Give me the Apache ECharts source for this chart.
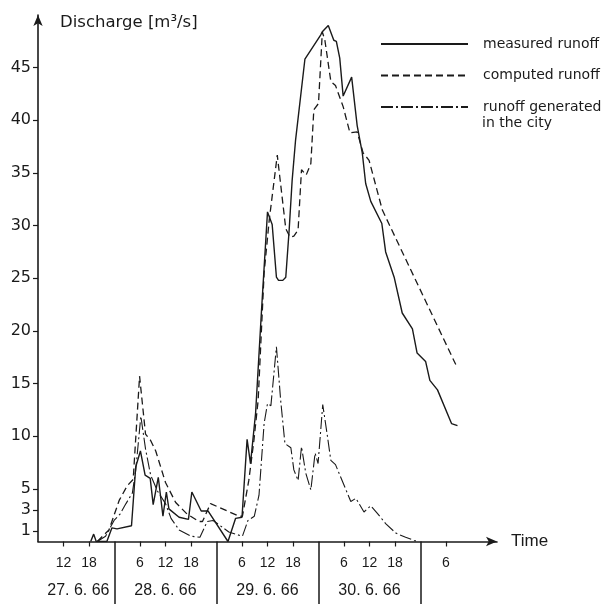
<!DOCTYPE html>
<html>
<head>
<meta charset="utf-8">
<script src="https://cdn.jsdelivr.net/npm/echarts@6/dist/echarts.min.js"></script>
<style>
html,body{margin:0;padding:0;background:#fff;}
#chart{width:602px;height:604px;}
</style>
</head>
<body>
<div id="chart"></div>
<script>
// time in hours counted from 27.6.66 00:00, discharge in m³/s
const measuredRunoff = [[18.4,0],[19.1,0.7],[19.7,0],[22.2,0],[23.4,1.3],[24.6,1.2],[28.0,1.5],[29.0,7.1],[30.1,8.6],[31.2,6.3],[32.4,6.0],[33.1,3.5],[34.3,6.1],[35.4,2.4],[36.2,4.7],[36.8,3.1],[39.2,2.3],[41.4,2.1],[42.2,4.7],[44.4,2.9],[46.0,2.9],[50.7,0],[52.5,2.2],[54.0,2.3],[55.2,9.7],[56.0,7.4],[57.2,12.2],[58.6,22.0],[60.0,31.3],[61.1,30.1],[62.1,25.1],[62.6,24.8],[63.6,24.8],[64.3,25.1],[65.1,29.6],[65.8,34.3],[66.6,38.1],[68.8,45.8],[72.5,48.1],[72.9,48.4],[74.3,49.0],[75.6,47.6],[76.2,47.5],[77.0,45.9],[77.8,42.3],[79.8,44.1],[81.1,39.5],[82.3,36.9],[83.1,34.0],[84.3,32.3],[86.9,30.2],[87.8,27.5],[89.8,25.1],[91.7,21.7],[94.1,20.2],[95.2,17.9],[97.2,17.1],[98.2,15.3],[100.0,14.4],[103.3,11.2],[104.7,11.0]];
const computedRunoff = [[19.95,0],[22.7,1.1],[25.1,3.9],[27.0,5.3],[28.4,5.9],[29.9,15.7],[31.3,10.2],[32.5,9.6],[33.7,8.6],[36.0,5.6],[38.4,3.7],[41.1,2.6],[43.9,1.9],[44.7,1.9],[46.6,3.6],[53.3,2.4],[54.1,2.4],[55.6,5.8],[56.8,9.6],[57.8,13.4],[59.2,25.5],[60.4,30.5],[62.3,36.7],[64.3,29.7],[65.3,28.9],[66.2,29.0],[67.2,29.6],[68.0,35.3],[69.1,34.8],[70.2,35.9],[70.9,41.0],[72.0,41.6],[72.9,48.4],[73.5,47.6],[74.9,43.7],[76.0,43.3],[77.8,41.3],[79.4,38.8],[81.1,38.9],[82.5,36.9],[83.9,36.2],[87.0,31.5],[104.3,16.8]];
const cityRunoff = [[19.95,0],[21.9,0.5],[23.9,2.0],[25.3,2.6],[26.7,3.6],[28.2,4.6],[29.0,6.8],[30.2,11.9],[31.3,8.8],[32.5,6.3],[34.1,4.8],[36.0,3.6],[37.3,2.2],[39.2,1.1],[42.0,0.5],[44.1,0.4],[45.8,1.9],[47.2,2.0],[50.9,0.9],[54.1,0.5],[55.4,2.0],[56.9,2.4],[58.0,4.4],[59.2,11.2],[60.0,13.1],[60.8,12.9],[62.1,18.5],[63.1,13.4],[64.1,9.3],[65.5,8.9],[66.2,6.8],[67.2,5.8],[68.0,9.0],[69.0,6.5],[70.2,4.9],[71.2,8.4],[71.9,7.4],[73.0,13.0],[74.1,10.0],[74.9,7.7],[76.0,7.3],[79.6,3.8],[80.8,4.1],[82.7,2.8],[84.3,3.4],[85.8,2.7],[87.8,1.7],[90.2,0.8],[92.5,0.4],[94.5,0.1],[95.6,0]];

const yTicks = [1,3,5,10,15,20,25,30,35,40,45];
const hourTicks = [12,18,30,36,42,54,60,66,78,84,90,102];
const dayBoundaries = [24,48,72,96];
const dateCenters = [15.5,36,60,84];
const dateLabels = ['27. 6. 66','28. 6. 66','29. 6. 66','30. 6. 66'];
const seriesNames = ['measured runoff','computed runoff','runoff generated'];
const legendSecondLine = 'in the city';

const INK = '#1a1a1a';
const FONT = 'Liberation Sans';
const FONT2 = 'DejaVu Sans';
const chart = echarts.init(document.getElementById('chart'), null, {renderer:'canvas'});

chart.setOption({
  animation:false,
  backgroundColor:'#fff',
  grid:{left:38, right:105, top:15, bottom:62.5, outerBoundsMode:'none', containLabel:false},
  legend:{
    orient:'vertical', left:380, top:37, padding:0,
    itemWidth:87, itemHeight:14, itemGap:17.5,
    data:seriesNames,
    itemStyle:{opacity:0},
    textStyle:{fontFamily:FONT2, fontSize:14, color:INK, padding:[0,0,0,10]},
    selectedMode:false
  },
  xAxis:[{
    type:'value', min:6, max:114,
    name:'Time', nameLocation:'end', nameGap:14,
    nameTextStyle:{fontFamily:FONT, fontSize:17, color:INK, align:'left', verticalAlign:'middle'},
    axisLine:{show:true, symbol:['none','arrow'], symbolSize:[7,11], lineStyle:{color:INK, width:1.6}},
    axisTick:{show:true, customValues:hourTicks, length:5, lineStyle:{color:INK, width:1.2}},
    axisLabel:{customValues:hourTicks, formatter:v=>String(v%24), margin:15, fontFamily:FONT, fontSize:14, color:INK},
    splitLine:{show:false}
  },{
    type:'value', min:6, max:114, position:'bottom',
    axisLine:{show:false},
    axisTick:{show:true, customValues:dayBoundaries, length:63, lineStyle:{color:INK, width:1.5}},
    axisLabel:{customValues:dateCenters, formatter:v=>dateLabels[dateCenters.indexOf(v)], margin:41, fontFamily:FONT, fontSize:16, color:INK},
    splitLine:{show:false}
  }],
  yAxis:{
    type:'value', min:0, max:50,
    name:'Discharge [m³/s]', nameLocation:'end', nameGap:-8,
    nameTextStyle:{fontFamily:FONT2, fontSize:16.5, color:INK, align:'left', verticalAlign:'middle', padding:[0,0,0,22]},
    axisLine:{show:true, symbol:['none','arrow'], symbolSize:[7,11], lineStyle:{color:INK, width:1.6}},
    axisTick:{show:true, customValues:yTicks, length:5, lineStyle:{color:INK, width:1.2}},
    axisLabel:{customValues:yTicks, margin:7, fontFamily:FONT2, fontSize:16, color:INK},
    splitLine:{show:false}
  },
  graphic:[{
    type:'text', left:482, top:116,
    style:{text:legendSecondLine, fontFamily:FONT2, fontSize:14, fill:INK}
  }],
  series:[{
    name:seriesNames[0], type:'line', data:measuredRunoff, symbol:'none', xAxisIndex:0,
    lineStyle:{color:INK, width:1.4, type:'solid'}, itemStyle:{color:INK}
  },{
    name:seriesNames[1], type:'line', data:computedRunoff, symbol:'none', xAxisIndex:0,
    lineStyle:{color:INK, width:1.3, type:[7,4]}, itemStyle:{color:INK}
  },{
    name:seriesNames[2], type:'line', data:cityRunoff, symbol:'none', xAxisIndex:0,
    lineStyle:{color:INK, width:1.1, type:[12,3,2,3]}, itemStyle:{color:INK}
  }]
});
</script>
</body>
</html>
